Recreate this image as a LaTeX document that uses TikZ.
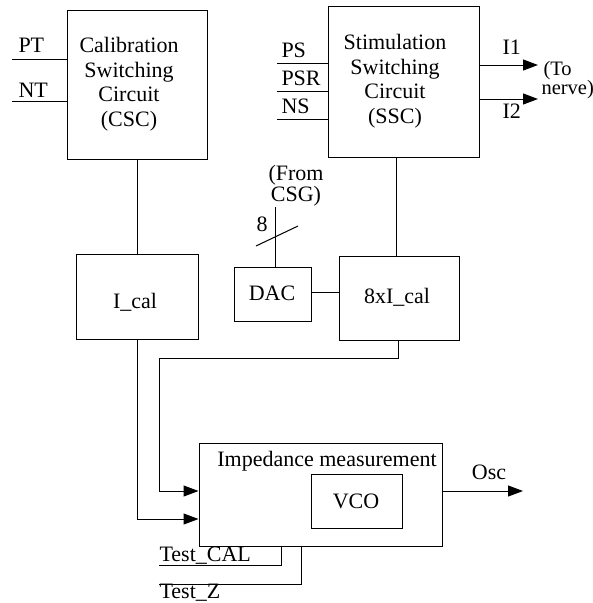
\documentclass[tikz,border=0pt]{standalone}
\usepackage{fontspec}
\setmainfont{Liberation Serif}
\usetikzlibrary{arrows.meta}
\begin{document}
\begin{tikzpicture}[x=1pt,y=-1pt, line width=1pt,
  box/.style={draw, rectangle, inner sep=0pt},
  lbl/.style={inner sep=0pt, align=center, font=\fontsize{22}{24.5}\selectfont},
  arr/.style={-{Triangle[length=15pt,width=11pt]}}]
\useasboundingbox (0,0) rectangle (593,603);
% boxes
\node[box, minimum width=140pt, minimum height=149pt] (csc) at (137,84.5) {};
\node[box, minimum width=151pt, minimum height=151pt] (ssc) at (403.5,81.5) {};
\node[box, minimum width=122pt, minimum height=85pt] (ical) at (137,296.5) {};
\node[box, minimum width=77pt, minimum height=54pt] (dac) at (272.5,294) {};
\node[box, minimum width=120pt, minimum height=84pt] (ical8) at (399,298) {};
\node[box, minimum width=243pt, minimum height=103pt] (zbox) at (320.5,494.5) {};
\node[box, minimum width=91pt, minimum height=54pt] (vco) at (356.5,501) {};
% texts in boxes
\node[lbl] (csct) at (129,84) {Calibration\\Switching\\Circuit\\(CSC)};
\node[lbl] (ssct) at (395,81) {Stimulation\\Switching\\Circuit\\(SSC)};
\node[lbl] (icalt) at (135,302) {I\_cal};
\node[lbl] (dact) at (272,293) {DAC};
\node[lbl] (ical8t) at (397,297) {8xI\_cal};
\node[lbl, anchor=base] (zt) at (327,466) {Impedance measurement};
\node[lbl] (vcot) at (356,501) {VCO};
% CSC inputs
\coordinate (pt) at (12,59);
\coordinate (nt) at (12,101);
\draw (pt) -- (pt -| csc.west);
\draw (nt) -- (nt -| csc.west);
\node[lbl, anchor=base west] (ptl) at (18,52) {PT};
\node[lbl, anchor=base west] (ntl) at (18,97) {NT};
% SSC inputs
\coordinate (ps) at (277,63);
\coordinate (psr) at (277,91);
\coordinate (ns) at (277,119);
\draw (ps) -- (ps -| ssc.west);
\draw (psr) -- (psr -| ssc.west);
\draw (ns) -- (ns -| ssc.west);
\node[lbl, anchor=base west] (psl) at (281,57) {PS};
\node[lbl, anchor=base west] (psrl) at (281,85) {PSR};
\node[lbl, anchor=base west] (nsl) at (281,113) {NS};
% SSC outputs
\coordinate (i1) at (538,65);
\coordinate (i2) at (538,99);
\draw[arr] (i1 -| ssc.east) -- (i1);
\draw[arr] (i2 -| ssc.east) -- (i2);
\node[lbl, anchor=base west] (i1l) at (502,54) {I1};
\node[lbl, anchor=base west] (i2l) at (502,118) {I2};
\node[inner sep=0pt, align=left, anchor=north west, font=\fontsize{20.5}{19}\selectfont] (tonerve) at (541,61) {\hspace*{2pt}(To\\nerve)};
% vertical links
\draw (csc.south) -- (ical.north);
\coordinate (sx) at (396,0);
\draw (ssc.south -| sx) -- (ical8.north -| sx);
\draw (dac.east |- 0,292) -- (ical8.west |- 0,292);
% DAC input
\coordinate (csg) at (275,207);
\draw (csg) -- (csg |- dac.north);
\coordinate (sl1) at (256,246);
\coordinate (sl2) at (298,226);
\draw (sl1) -- (sl2);
\node[lbl] (eight) at (262,224) {8};
\node[inner sep=0pt, align=center, font=\fontsize{22}{19}\selectfont] (from) at (296,186) {(From\\CSG)};
% to impedance measurement
\coordinate (bend) at (159,358);
\draw[arr] (ical8.south -| 398,0) -- (398,358) -- (bend) -- (159,491) -- (zbox.west |- 0,491);
\draw[arr] (ical.south) |- (zbox.west |- 0,519);
% Osc
\coordinate (osc) at (523,491);
\draw[arr] (zbox.east |- osc) -- (osc);
\node[lbl, anchor=base] (oscl) at (489,479) {Osc};
% tests
\coordinate (tc) at (159,565);
\coordinate (tz) at (159,584);
\draw (tc) -| (zbox.south -| 281,0);
\draw (tz) -| (zbox.south -| 301,0);
\node[lbl, anchor=base west] (tcl) at (159,561) {Test\_CAL};
\node[lbl, anchor=base west] (tzl) at (159,598) {Test\_Z};
\end{tikzpicture}
\end{document}
